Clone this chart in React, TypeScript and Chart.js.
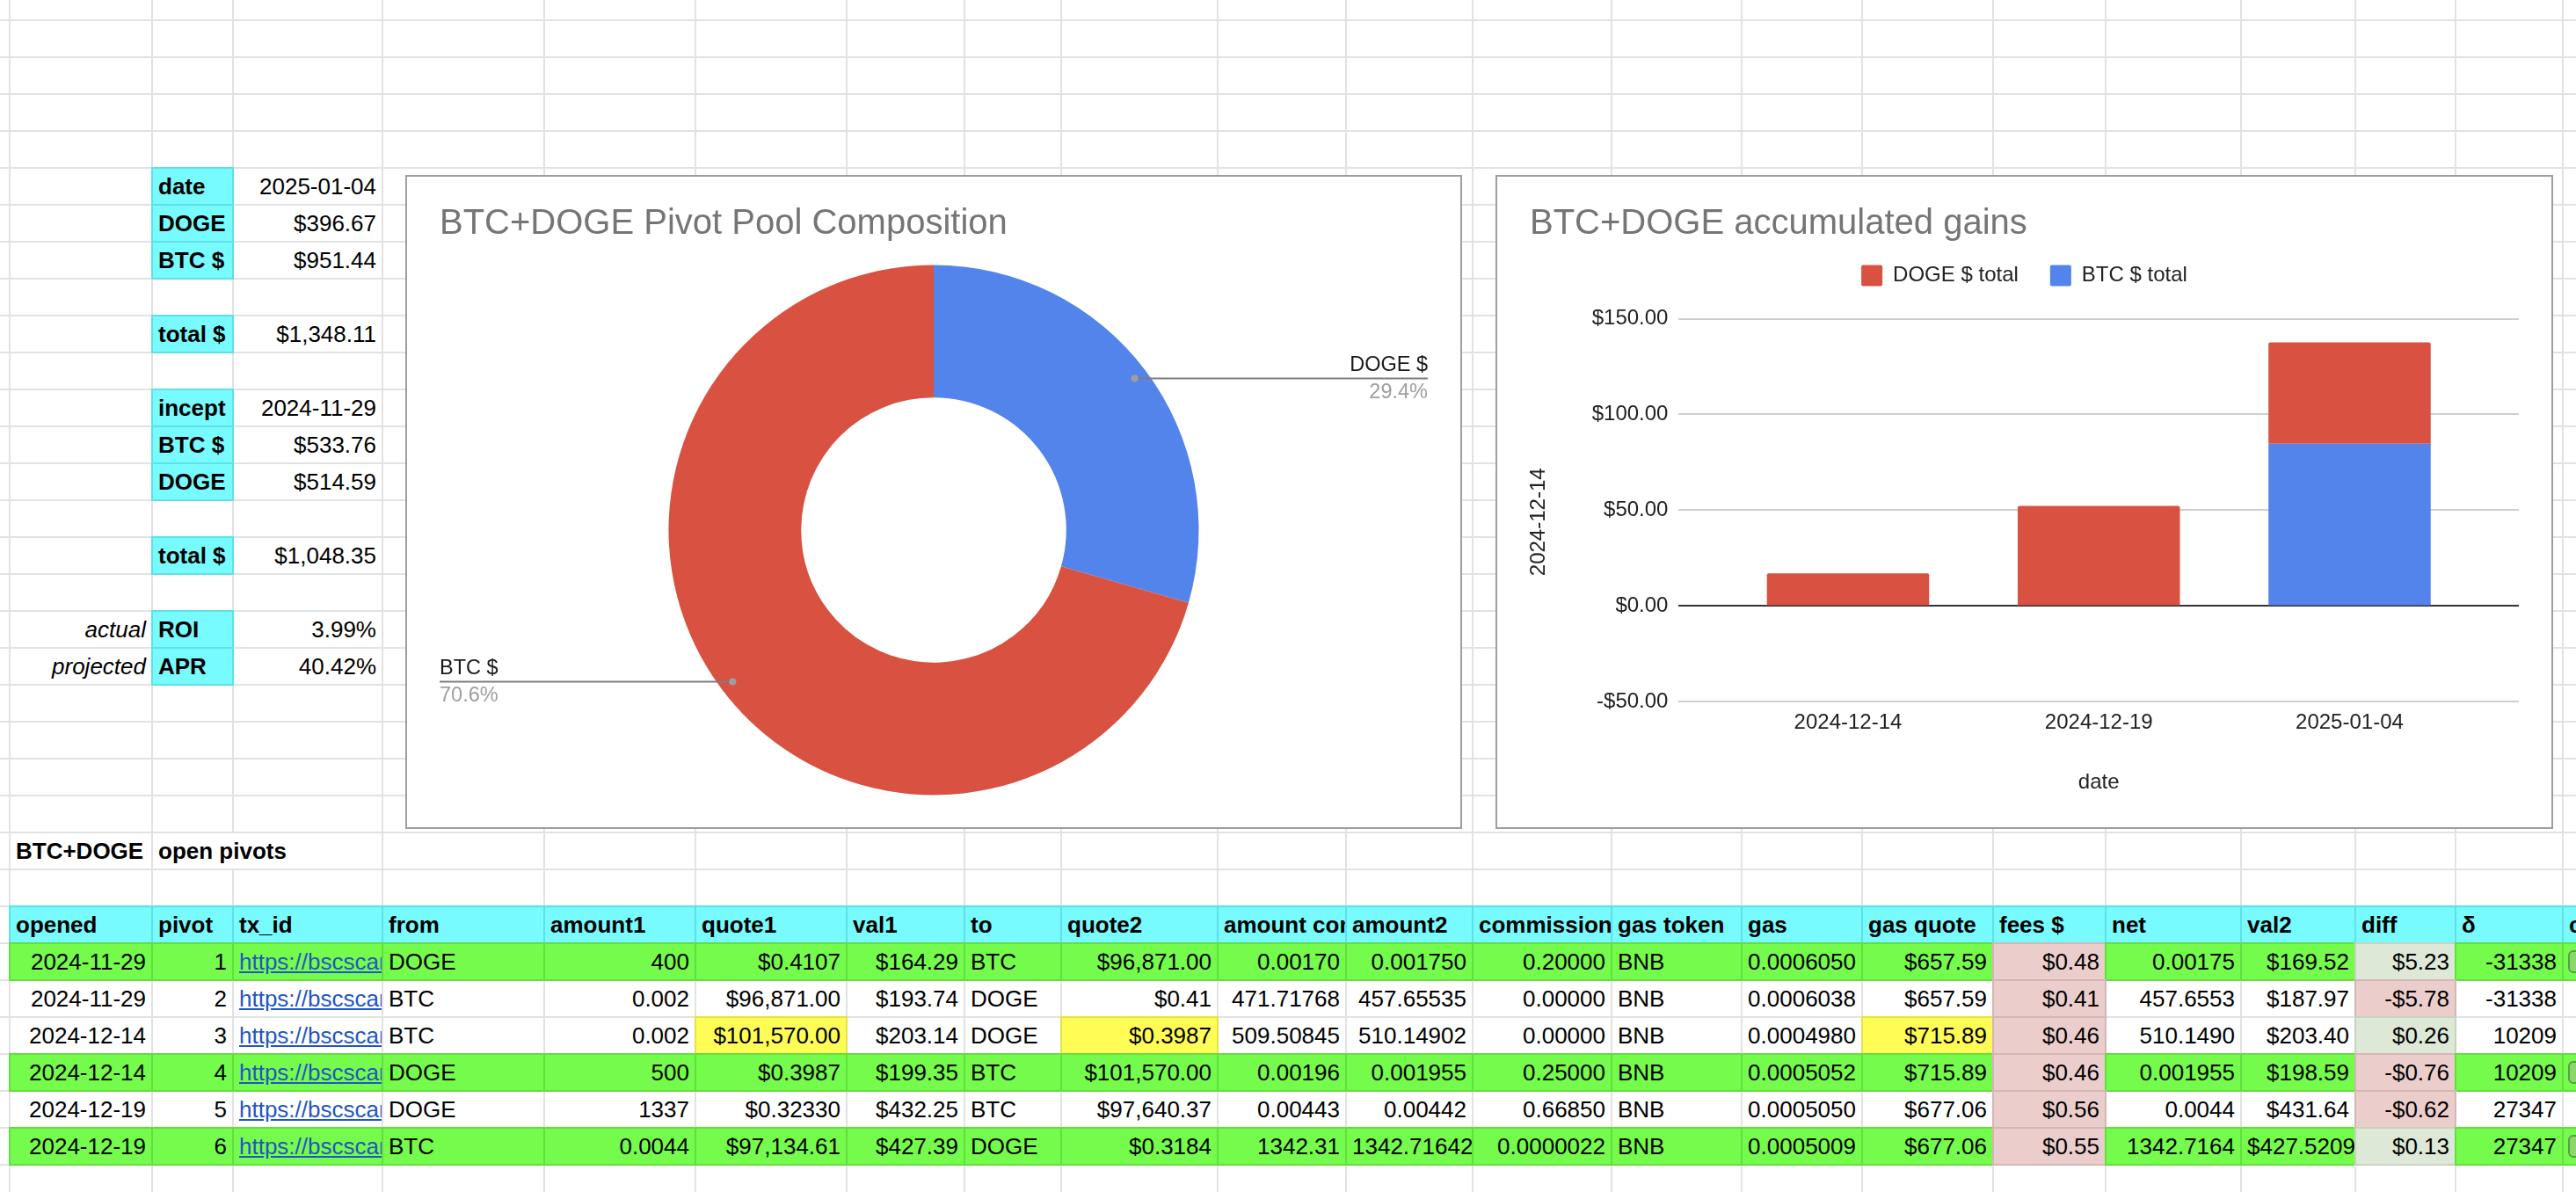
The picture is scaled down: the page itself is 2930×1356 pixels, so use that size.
import React, { useEffect, useRef } from 'react';
import { Chart, registerables } from 'chart.js';

Chart.register(...registerables);

const FONT = '"Liberation Sans", Arial, Helvetica, sans-serif';

// ---------- chart data ----------
const poolLabels = ['DOGE $', 'BTC $'];
const poolValues = [396.67, 951.44];

const gainDates = ['2024-12-14', '2024-12-19', '2025-01-04'];
const dogeTotals = [17.0, 52.3, 52.9];
const btcTotals: (number | null)[] = [null, null, 84.7];
const gainAxisMin = -50;
const gainAxisMax = 150;
const gainAxisStep = 50;

const BLUE = '#5384eb';
const RED = '#d95141';

// ---------- sheet data ----------
const COLS = [11, 173, 265, 435, 619, 791, 963, 1097, 1207, 1385, 1531, 1675, 1833, 1981, 2118, 2267, 2395, 2549, 2679, 2793, 2915, 3100];
const ROW0 = 23;
const RH = 42;

const summaryRows: [number, string, string, string][] = [
  [4, '', 'date', '2025-01-04'],
  [5, '', 'DOGE', '$396.67'],
  [6, '', 'BTC $', '$951.44'],
  [8, '', 'total $', '$1,348.11'],
  [10, '', 'incept', '2024-11-29'],
  [11, '', 'BTC $', '$533.76'],
  [12, '', 'DOGE', '$514.59'],
  [14, '', 'total $', '$1,048.35'],
  [16, 'actual', 'ROI', '3.99%'],
  [17, 'projected', 'APR', '40.42%'],
];

const headers = ['opened', 'pivot', 'tx_id', 'from', 'amount1', 'quote1', 'val1', 'to', 'quote2', 'amount commission', 'amount2', 'commission', 'gas token', 'gas', 'gas quote', 'fees $', 'net', 'val2', 'diff', 'δ', 'closed'];

const LINK = 'https://bscscan.com/tx/0x';
const pivotRows: string[][] = [
  ['2024-11-29', '1', LINK, 'DOGE', '400', '$0.4107', '$164.29', 'BTC', '$96,871.00', '0.00170', '0.001750', '0.20000', 'BNB', '0.0006050', '$657.59', '$0.48', '0.00175', '$169.52', '$5.23', '-31338'],
  ['2024-11-29', '2', LINK, 'BTC', '0.002', '$96,871.00', '$193.74', 'DOGE', '$0.41', '471.71768', '457.65535', '0.00000', 'BNB', '0.0006038', '$657.59', '$0.41', '457.6553', '$187.97', '-$5.78', '-31338'],
  ['2024-12-14', '3', LINK, 'BTC', '0.002', '$101,570.00', '$203.14', 'DOGE', '$0.3987', '509.50845', '510.14902', '0.00000', 'BNB', '0.0004980', '$715.89', '$0.46', '510.1490', '$203.40', '$0.26', '10209'],
  ['2024-12-14', '4', LINK, 'DOGE', '500', '$0.3987', '$199.35', 'BTC', '$101,570.00', '0.00196', '0.001955', '0.25000', 'BNB', '0.0005052', '$715.89', '$0.46', '0.001955', '$198.59', '-$0.76', '10209'],
  ['2024-12-19', '5', LINK, 'DOGE', '1337', '$0.32330', '$432.25', 'BTC', '$97,640.37', '0.00443', '0.00442', '0.66850', 'BNB', '0.0005050', '$677.06', '$0.56', '0.0044', '$431.64', '-$0.62', '27347'],
  ['2024-12-19', '6', LINK, 'BTC', '0.0044', '$97,134.61', '$427.39', 'DOGE', '$0.3184', '1342.31', '1342.716422', '0.0000022', 'BNB', '0.0005009', '$677.06', '$0.55', '1342.7164', '$427.52093', '$0.13', '27347'],
];
const greenRows = [true, false, false, true, false, true];
const yellowCells: [number, number][] = [[2, 5], [2, 8], [2, 14]];
const leftCols = [2, 3, 7, 12];
const clipLeft: [number, number][] = [[5, 10], [5, 17]];

const C = {
  cyan: ['#77fbfe', '#5fe0e6'],
  green: ['#75fb4c', '#62de3f'],
  yellow: ['#fffd55', '#e4e24a'],
  pink: ['#ebcdcc', '#d6b6b5'],
  lgreen: ['#dde8d6', '#c7d3c0'],
};

type CellO = {
  align?: 'left' | 'right';
  bold?: boolean;
  italic?: boolean;
  fill?: string[];
  link?: boolean;
  white?: boolean;
  padR?: number;
};

function cell(key: string, c0: number, c1: number, r: number, text: string, o: CellO = {}) {
  const x0 = COLS[c0];
  const x1 = COLS[c1 + 1];
  const y0 = ROW0 + RH * r;
  const style: React.CSSProperties = {
    position: 'absolute',
    left: x0 - 1,
    top: y0 - 1,
    width: x1 - x0 + 2,
    height: RH + 2,
    boxSizing: 'border-box',
    border: `2px solid ${o.fill ? o.fill[1] : 'transparent'}`,
    background: o.fill ? o.fill[0] : o.white ? '#ffffff' : 'transparent',
    backgroundClip: o.fill ? 'border-box' : 'padding-box',
    paddingLeft: 6,
    paddingRight: o.padR ?? 6,
    lineHeight: `${RH - 2}px`,
    fontSize: 26,
    fontFamily: FONT,
    fontWeight: o.bold ? 700 : 400,
    fontStyle: o.italic ? 'italic' : 'normal',
    textAlign: o.align ?? 'right',
    whiteSpace: 'nowrap',
    overflow: 'hidden',
    color: o.link ? '#1f55c6' : '#000',
    textDecoration: o.link ? 'underline' : 'none',
  };
  return (
    <div key={key} style={style}>
      {text}
    </div>
  );
}

function Sheet() {
  const lines: React.ReactNode[] = [];
  COLS.forEach((x, i) =>
    lines.push(<div key={'v' + i} style={{ position: 'absolute', left: x - 1, top: 0, width: 2, height: 1356, background: '#e2e2e2' }} />)
  );
  for (let k = 0; k <= 32; k++) {
    const y = ROW0 + RH * k;
    lines.push(<div key={'h' + k} style={{ position: 'absolute', left: 0, top: y - 1, width: 2930, height: 2, background: '#e2e2e2' }} />);
  }
  const cells: React.ReactNode[] = [];
  summaryRows.forEach(([r, note, label, value]) => {
    if (note) cells.push(cell('n' + r, 0, 0, r, note, { italic: true, align: 'right' }));
    cells.push(cell('l' + r, 1, 1, r, label, { bold: true, align: 'left', fill: C.cyan }));
    cells.push(cell('v' + r, 2, 2, r, value, { align: 'right' }));
  });
  cells.push(cell('t0', 0, 0, 22, 'BTC+DOGE', { bold: true, align: 'left' }));
  cells.push(cell('t1', 1, 2, 22, 'open pivots', { bold: true, align: 'left', white: true }));
  headers.forEach((h, c) => cells.push(cell('hd' + c, c, c, 24, h, { bold: true, align: 'left', fill: C.cyan, padR: 0 })));
  pivotRows.forEach((row, ri) => {
    const r = 25 + ri;
    row.forEach((t, c) => {
      let fill: string[] | undefined = greenRows[ri] ? C.green : undefined;
      if (yellowCells.some(([a, b]) => a === ri && b === c)) fill = C.yellow;
      if (c === 15) fill = C.pink;
      if (c === 18) fill = t.startsWith('-') ? C.pink : C.lgreen;
      let align: 'left' | 'right' = leftCols.includes(c) ? 'left' : 'right';
      const clip = clipLeft.some(([a, b]) => a === ri && b === c);
      if (clip) align = 'left';
      cells.push(cell(`d${ri}_${c}`, c, c, r, t, { fill, align, link: c === 2, padR: clip || c === 2 ? 0 : 6 }));
    });
    if (greenRows[ri]) {
      cells.push(cell(`d${ri}_20`, 20, 20, r, '', { fill: C.green }));
      const y0 = ROW0 + RH * r;
      cells.push(
        <div
          key={'chip' + ri}
          style={{
            position: 'absolute', left: 2921, top: y0 + 8, width: 30, height: 26, boxSizing: 'border-box',
            borderRadius: 6, border: '2px solid #5a9f45', background: '#8bd86a',
          }}
        />
      );
    }
  });
  return (
    <>
      {lines}
      {cells}
    </>
  );
}

const fmtMoney = (v: number) => (v < 0 ? '-$' : '$') + Math.abs(v).toFixed(2);

const donutLabels = {
  id: 'donutLabels',
  afterDatasetsDraw(chart: any) {
    const { ctx, chartArea } = chart;
    const meta = chart.getDatasetMeta(0);
    const values = chart.data.datasets[0].data as number[];
    const total = values.reduce((a, b) => a + b, 0);
    meta.data.forEach((el: any, i: number) => {
      const { x, y, startAngle, endAngle, outerRadius } = el.getProps(['x', 'y', 'startAngle', 'endAngle', 'outerRadius'], true);
      const mid = (startAngle + endAngle) / 2;
      const r = outerRadius * 0.95;
      const px = x + Math.cos(mid) * r;
      const py = y + Math.sin(mid) * r;
      const right = Math.cos(mid) >= 0;
      const ex = right ? chartArea.right : chartArea.left;
      ctx.save();
      ctx.strokeStyle = '#7d7d7d';
      ctx.lineWidth = 2;
      ctx.beginPath();
      ctx.moveTo(px, py);
      ctx.lineTo(ex, py);
      ctx.stroke();
      ctx.fillStyle = '#9e9e9e';
      ctx.beginPath();
      ctx.arc(px, py, 4, 0, Math.PI * 2);
      ctx.fill();
      ctx.textAlign = right ? 'right' : 'left';
      ctx.textBaseline = 'alphabetic';
      ctx.font = `23.5px ${FONT}`;
      ctx.fillStyle = '#1a1a1a';
      ctx.fillText(String(chart.data.labels[i]), ex, py - 8);
      ctx.fillStyle = '#9e9e9e';
      ctx.fillText(((values[i] / total) * 100).toFixed(1) + '%', ex, py + 22.5);
      ctx.restore();
    });
  },
};

const legendGap = {
  id: 'legendGap',
  beforeInit(chart: any) {
    const lg = chart.legend;
    if (!lg) return;
    const fit = lg.fit;
    lg.fit = function () {
      fit.call(this);
      this.height += 27;
    };
  },
};

export default function App() {
  const pieRef = useRef<HTMLCanvasElement>(null);
  const barRef = useRef<HTMLCanvasElement>(null);

  useEffect(() => {
    document.body.style.margin = '0';
    document.documentElement.style.overflow = 'hidden';
    const titleFont = { family: FONT, size: 40, weight: 'normal' as const, lineHeight: 1 };
    const f24 = { family: FONT, size: 24, lineHeight: 1.2 };

    const pie = new Chart(pieRef.current!, {
      type: 'doughnut',
      data: {
        labels: poolLabels,
        datasets: [{ data: poolValues, backgroundColor: [BLUE, RED], borderWidth: 0, hoverOffset: 0 }],
      },
      options: {
        responsive: false,
        animation: false,
        events: [],
        cutout: '50%',
        layout: { padding: { left: 37, right: 37, top: 0, bottom: 36.6 } },
        plugins: {
          legend: { display: false },
          tooltip: { enabled: false },
          title: {
            display: true,
            text: 'BTC+DOGE Pivot Pool Composition',
            align: 'start',
            color: '#757575',
            font: titleFont,
            padding: { top: 33.75, bottom: 26.65 },
          },
        },
      },
      plugins: [donutLabels],
    });

    const bar = new Chart(barRef.current!, {
      type: 'bar',
      data: {
        datasets: [
          { label: 'BTC $ total', data: btcTotals.map((v, i) => ({ x: i, y: v })) as any, backgroundColor: BLUE, borderWidth: 0 },
          { label: 'DOGE $ total', data: dogeTotals.map((v, i) => ({ x: i, y: v })) as any, backgroundColor: RED, borderWidth: 0, borderRadius: 2 },
        ],
      },
      options: {
        responsive: false,
        animation: false,
        events: [],
        layout: { padding: { left: 37, right: 37, top: 0, bottom: 36 } },
        datasets: { bar: { categoryPercentage: 1, barPercentage: 0.647 } },
        scales: {
          x: {
            type: 'linear',
            stacked: true,
            offset: false,
            min: -0.675,
            max: gainDates.length - 1 + 0.675,
            grid: { display: false, drawTicks: false, offset: false },
            border: { display: false },
            afterBuildTicks: (s: any) => {
              s.ticks = gainDates.map((_, i) => ({ value: i }));
            },
            ticks: {
              callback: (v: any) => gainDates[v as number] ?? '',
              font: f24,
              color: '#222',
              padding: 9.4,
              maxRotation: 0,
              autoSkip: false,
            },
            title: { display: true, text: 'date', font: f24, color: '#222', padding: { top: 30.2, bottom: 0 } },
          },
          y: {
            stacked: true,
            min: gainAxisMin,
            max: gainAxisMax,
            ticks: { stepSize: gainAxisStep, callback: (v: any) => fmtMoney(Number(v)), font: f24, color: '#222', padding: 12 },
            grid: {
              drawTicks: false,
              lineWidth: 2,
              color: (ctx: any) => (ctx.tick && ctx.tick.value === 0 ? '#333333' : '#cfcfcf'),
            },
            border: { display: false },
            title: {
              display: true,
              text: '2024-12-14\u00a0\u00a0\u00a0\u00a0',
              font: f24,
              color: '#222',
              padding: { top: -4.4, bottom: 34.3 },
            },
          },
        },
        plugins: {
          tooltip: { enabled: false },
          legend: {
            reverse: true,
            labels: {
              boxWidth: 24,
              boxHeight: 24,
              padding: 36,
              font: { family: FONT, size: 24 },
              color: '#222',
              useBorderRadius: true,
              borderRadius: 2,
            },
          },
          title: {
            display: true,
            text: 'BTC+DOGE accumulated gains',
            align: 'start',
            color: '#757575',
            font: titleFont,
            padding: { top: 33.75, bottom: -9.25 },
          },
        },
      },
      plugins: [legendGap],
    });

    return () => {
      pie.destroy();
      bar.destroy();
    };
  }, []);

  const box = (left: number, width: number): React.CSSProperties => ({
    position: 'absolute',
    left,
    top: 199,
    width,
    height: 744,
    boxSizing: 'border-box',
    border: '2px solid #9e9e9e',
    background: '#ffffff',
  });

  return (
    <div style={{ position: 'absolute', left: 0, top: 0, width: 2930, height: 1356, overflow: 'hidden', background: '#ffffff', fontFamily: FONT }}>
      <Sheet />
      <div style={box(461, 1202)}>
        <canvas ref={pieRef} width={1198} height={740} style={{ display: 'block', width: 1198, height: 740 }} />
      </div>
      <div style={box(1701, 1203)}>
        <canvas ref={barRef} width={1199} height={740} style={{ display: 'block', width: 1199, height: 740 }} />
      </div>
    </div>
  );
}
